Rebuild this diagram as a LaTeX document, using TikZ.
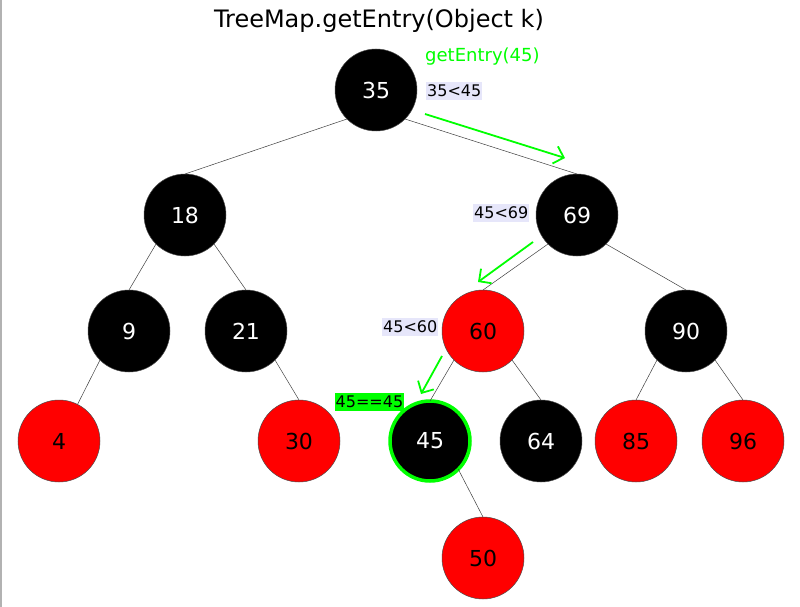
\documentclass[tikz,border=0pt]{standalone}
\usepackage{fontspec}
\setmainfont{DejaVu Sans}
\usetikzlibrary{arrows.meta}
\definecolor{lav}{HTML}{E6E6FA}
\definecolor{grn}{HTML}{00FF00}
\definecolor{rd}{HTML}{FF0000}
\begin{document}
\begin{tikzpicture}[x=1pt,y=-1pt,
  rb/.style={circle,minimum size=82pt,inner sep=0pt,outer sep=0pt,draw=black!70,line width=0.5pt,font=\fontsize{22}{26}\selectfont},
  blk/.style={rb,fill=black,text=white},
  red/.style={rb,fill=rd,text=black},
  edge/.style={draw=black!75,line width=0.5pt},
  lbl/.style={fill=lav,inner xsep=1pt,inner ysep=3pt,font=\fontsize{16}{18}\selectfont},
  garr/.style={draw=grn,line width=1.8pt,-{Straight Barb[length=9pt,width=18pt,line width=1.8pt]}}
]
\useasboundingbox (0,0) rectangle (800,607);
\fill[white] (0,0) rectangle (800,607);
\draw[black!30,line width=1.5pt] (1,0) -- (1,607);
\node[font=\fontsize{24}{28}\selectfont] (title) at (379,21) {TreeMap.getEntry(Object k)};
% nodes
\node[blk] (n35) at (376,90) {35};
\node[blk] (n18) at (185,215) {18};
\node[blk] (n69) at (577,215) {69};
\node[blk] (n9) at (129,331) {9};
\node[blk] (n21) at (246,331) {21};
\node[red] (n60) at (483,331) {60};
\node[blk] (n90) at (686,331) {90};
\node[red] (n4) at (59,441) {4};
\node[red] (n30) at (299,441) {30};
\node[blk,draw=grn,line width=3.5pt,minimum size=80pt] (n45) at (430,441) {45};
\node[blk] (n64) at (541,441) {64};
\node[red] (n85) at (636,441) {85};
\node[red] (n96) at (743,441) {96};
\node[red] (n50) at (483,558) {50};
% edges (parent lower side to child top)
\foreach \a/\b in {35/18,18/9,69/60,60/45,90/85}
  \draw[edge] (n\a.south west) -- (n\b.north);
\foreach \a/\b in {35/69,18/21,21/30,69/90,60/64,90/96,45/50}
  \draw[edge] (n\a.south east) -- (n\b.north);
\draw[edge] (n9.south west) -- (n4);
% labels
\node[anchor=west,text=grn,font=\fontsize{18}{20}\selectfont,inner sep=0pt] (ge) at (425,57) {getEntry(45)};
\node[lbl,anchor=west] (l1) at (426,91) {35<45};
\node[lbl,anchor=west] (l2) at (473,213) {45<69};
\node[lbl,anchor=west] (l3) at (382,327) {45<60};
\node[lbl,anchor=west,fill=grn,inner xsep=0.5pt] (l4) at (335,402) {45==45};
% green arrows
\coordinate (a1s) at (425,114);
\coordinate (a1e) at (565,158);
\coordinate (a2s) at (533,242);
\coordinate (a2e) at (478,282);
\coordinate (a3s) at (442,356);
\coordinate (a3e) at (421,394);
\draw[garr] (a1s) -- (a1e);
\draw[garr] (a2s) -- (a2e);
\draw[garr] (a3s) -- (a3e);
\end{tikzpicture}
\end{document}
